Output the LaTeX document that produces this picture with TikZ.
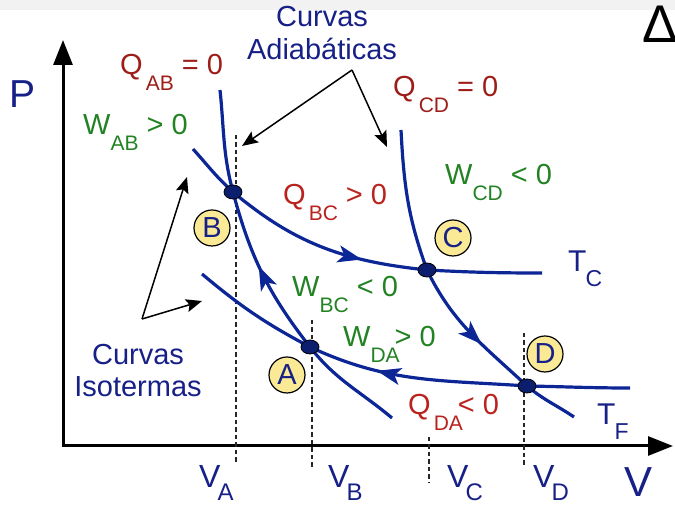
\documentclass[tikz,border=0pt]{standalone}
\usepackage{fontspec}
\setmainfont{Liberation Sans}
\usetikzlibrary{arrows.meta,decorations.markings,shapes.geometric}
\definecolor{curve}{RGB}{12,38,150}
\definecolor{navy}{RGB}{22,32,135}
\definecolor{qred}{RGB}{185,35,30}
\definecolor{wgreen}{RGB}{35,130,35}
\definecolor{ptfill}{RGB}{12,30,110}
\definecolor{yel}{RGB}{250,234,150}
\newcommand{\lfont}{\fontsize{29}{31}\selectfont}
\newcommand{\sbs}[1]{\raisebox{-16pt}{\fontsize{21}{21}\selectfont #1}}
\newcommand{\vsb}[1]{\raisebox{-13pt}{\fontsize{24}{24}\selectfont #1}}
\begin{document}
\begin{tikzpicture}[x=1pt,y=1pt,
  curveline/.style={line width=3.2pt, draw=curve},
  fwd/.style={postaction={decorate,decoration={markings,mark=at position #1 with {\arrow[curve]{Stealth[length=24pt,width=17pt,inset=6pt]}}}}},
  axisline/.style={line width=3pt, black, line join=miter},
  annot/.style={line width=1.5pt, black, -{Stealth[length=16pt,width=13pt,inset=3pt]}},
  dashv/.style={line width=1.5pt, black!85, dash pattern=on 4.5pt off 3pt},
  dot/.style={ellipse, draw=black, line width=0.8pt, fill=ptfill, minimum width=18pt, minimum height=14pt, inner sep=0pt},
  labcirc/.style={circle, draw=black, line width=1.2pt, fill=yel, minimum size=36pt, inner sep=0pt, text=navy, font=\fontsize{29}{29}\selectfont},
  txt/.style={anchor=base west, inner sep=0pt, font=\lfont},
  vtxt/.style={anchor=base west, inner sep=0pt, text=navy, font=\fontsize{32}{32}\selectfont},
]
\useasboundingbox (0,0) rectangle (675,505);
\fill[black!5] (0,495) rectangle (675,505);

% axes
\coordinate (ytip) at (63,465);
\coordinate (orig) at (63,59);
\coordinate (xtip) at (673,59);
\draw[axisline, {Triangle[length=25pt,width=19pt]}-{Triangle[length=25pt,width=19pt]}] (ytip) -- (orig) -- (xtip);

% dashed volume markers
\coordinate (va1) at (236,370); \coordinate (va2) at (236,42);
\coordinate (vb1) at (312,185); \coordinate (vb2) at (312,37);
\coordinate (vc1) at (429,68);  \coordinate (vc2) at (429,22);
\coordinate (vd1) at (524,172); \coordinate (vd2) at (524,38);
\draw[dashv] (va1) -- (va2);
\draw[dashv] (vb1) -- (vb2);
\draw[dashv] (vc1) -- (vc2);
\draw[dashv] (vd1) -- (vd2);

% key points
\coordinate (B) at (233,313);
\coordinate (C) at (427,235);
\coordinate (A) at (310,158);
\coordinate (D) at (527,119);
\coordinate (ab1) at (220,415);
\coordinate (ab2) at (392,87);
\coordinate (tc1) at (193,356);
\coordinate (tc2) at (542,232);
\coordinate (cd1) at (401,375);
\coordinate (cd2) at (574,88);
\coordinate (tf1) at (202,231);
\coordinate (tf2) at (630,117);

% adiabat AB
\draw[curveline] (ab1) to[out=-84,in=105] (B);
\draw[curveline, fwd=0.55] (A) to[out=128,in=-75] (B);
\draw[curveline] (A) to[out=-52,in=140] (ab2);
% isotherm TC
\draw[curveline] (tc1) to[out=-48,in=138] (B);
\draw[curveline, fwd=0.69] (B) to[out=-40,in=174] (C);
\draw[curveline] (C) to[out=-3,in=180] (tc2);
% adiabat CD
\draw[curveline] (cd1) to[out=-87,in=110] (C);
\draw[curveline, fwd=0.6] (C) to[out=-64,in=137] (D);
\draw[curveline] (D) to[out=-40,in=146] (cd2);
% isotherm TF
\draw[curveline] (tf1) to[out=-40,in=152] (A);
\draw[curveline, fwd=0.68] (D) to[out=176,in=-25] (A);
\draw[curveline] (D) to[out=-1,in=180] (tf2);

% dots
\node[dot] (dB) at (B) {};
\node[dot] (dC) at (C) {};
\node[dot] (dA) at (A) {};
\node[dot] (dD) at (D) {};

% circle labels
\node[labcirc] (lB) at (212,277) {B};
\node[labcirc] (lC) at (453,267) {C};
\node[labcirc] (lA) at (287,130) {A};
\node[labcirc] (lD) at (545,151) {D};

% axis labels
\node[txt, text=navy, font=\fontsize{39}{39}\selectfont] (P) at (9,397) {P};
\node[txt, text=navy, font=\fontsize{42}{42}\selectfont] (V) at (624,8) {V};
\node[anchor=base west, inner sep=0pt, font=\fontsize{53}{53}\selectfont] (delta) at (642,462) {Δ};
\node[vtxt] (VA) at (199,17) {V\kern-3pt\vsb{A}};
\node[vtxt] (VB) at (328,17) {V\kern-3pt\vsb{B}};
\node[vtxt] (VC) at (447,17) {V\kern-3pt\vsb{C}};
\node[vtxt] (VD) at (533,17) {V\kern-3pt\vsb{D}};

% heat and work labels
\node[txt, text=qred!85!black] (QAB) at (120,430) {Q\kern3pt\sbs{AB} = 0};
\node[txt, text=wgreen] (WAB) at (83,370) {W\sbs{AB} > 0};
\node[txt, text=qred!85!black] (QCD) at (393,408) {Q\kern3pt\sbs{CD} = 0};
\node[txt, text=wgreen] (WCD) at (445,320) {W\sbs{CD} < 0};
\node[txt, text=qred] (QBC) at (283,300) {Q\kern3pt\sbs{BC} > 0};
\node[txt, text=wgreen] (WBC) at (292,208) {W\sbs{BC} < 0};
\node[txt, text=wgreen] (WDA) at (343,158) {W\sbs{DA}\kern-5pt > 0};
\node[txt, text=qred] (QDA) at (408,90) {Q\kern3pt\sbs{DA}\kern-5pt < 0};
\node[txt, text=navy, font=\fontsize{30}{30}\selectfont] (TC) at (568,233) {T\kern-1pt\raisebox{-15pt}{\fontsize{23}{23}\selectfont C}};
\node[txt, text=navy, font=\fontsize{30}{30}\selectfont] (TF) at (597,80) {T\kern-1pt\raisebox{-15pt}{\fontsize{23}{23}\selectfont F}};

% curve family labels
\node[anchor=base, inner sep=0pt, text=navy, font=\lfont] (cad1) at (322,478) {Curvas};
\node[anchor=base, inner sep=0pt, text=navy, font=\lfont] (cad2) at (322,445) {Adiabáticas};
\node[anchor=base, inner sep=0pt, text=navy, font=\lfont] (cis1) at (138,140) {Curvas};
\node[anchor=base, inner sep=0pt, text=navy, font=\lfont] (cis2) at (138,108) {Isotermas};

% annotation arrows
\coordinate (adv) at (352,435);
\coordinate (adt1) at (242,359);
\coordinate (adt2) at (387,358);
\draw[annot] (adv) -- (adt1);
\draw[annot] (adv) -- (adt2);
\coordinate (isv) at (142,186);
\coordinate (ist1) at (187,328);
\coordinate (ist2) at (202,204);
\draw[annot] (isv) -- (ist1);
\draw[annot] (isv) -- (ist2);
\end{tikzpicture}
\end{document}
